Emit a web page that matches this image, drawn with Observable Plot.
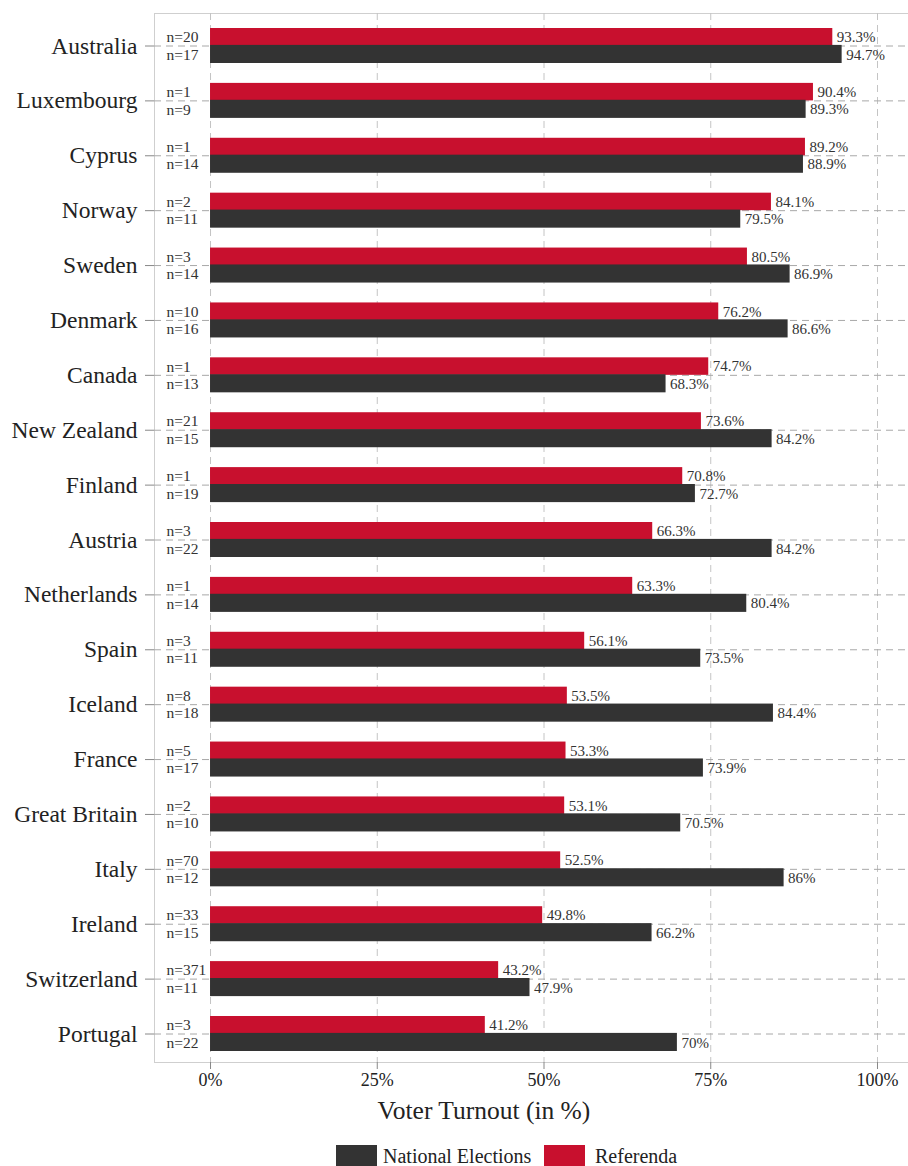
<!DOCTYPE html>
<html>
<head>
<meta charset="utf-8">
<script src="https://cdn.jsdelivr.net/npm/d3@7"></script>
<script src="https://cdn.jsdelivr.net/npm/@observablehq/plot@0.6"></script>
<style>
  html, body { margin: 0; padding: 0; background: #fff; }
  #wrap { position: relative; width: 908px; height: 1166px; overflow: hidden; font-family: "Liberation Serif", "DejaVu Serif", serif; }
  .sw { position: absolute; width: 41px; height: 22px; }
  .lt { position: absolute; font-size: 20px; color: #222; line-height: 20px; }
</style>
</head>
<body>
<div id="wrap"></div>
<script>
const countries = ["Australia","Luxembourg","Cyprus","Norway","Sweden","Denmark","Canada","New Zealand","Finland","Austria","Netherlands","Spain","Iceland","France","Great Britain","Italy","Ireland","Switzerland","Portugal"];
const referenda = [93.3,90.4,89.2,84.1,80.5,76.2,74.7,73.6,70.8,66.3,63.3,56.1,53.5,53.3,53.1,52.5,49.8,43.2,41.2];
const national = [94.7,89.3,88.9,79.5,86.9,86.6,68.3,84.2,72.7,84.2,80.4,73.5,84.4,73.9,70.5,86,66.2,47.9,70];
const nReferenda = [20,1,1,2,3,10,1,21,1,3,1,3,8,5,2,70,33,371,3];
const nNational = [17,9,14,11,14,16,13,15,19,22,14,11,18,17,10,12,15,11,22];
const xTicks = [0,25,50,75,100];
const seriesNames = ["National Elections","Referenda"];
const seriesColors = ["#333333","#c8102e"];
const xTitle = "Voter Turnout (in %)";

const rows = countries.map((c,i) => ({country:c, ref:referenda[i], nat:national[i], nRef:nReferenda[i], nNat:nNational[i]}));

const W = 908, H = 1140;
const mTop = 13, mBottom = H - 1062, mLeft = 154, mRight = -1;
const firstC = 45.5, lastC = 1033.5, bw = 35;
const step = (lastC - firstC) / (countries.length - 1);
const pad = 1 - bw / step;
const half = bw / 2;
const yRange = [firstC - half - pad * step, lastC + half + pad * step];

const chart = Plot.plot({
  width: W, height: H,
  marginTop: mTop, marginBottom: mBottom, marginLeft: mLeft, marginRight: mRight,
  style: {fontFamily: '"Liberation Serif", "DejaVu Serif", serif', color: "#222", background: "#fff"},
  x: {domain: [-8.4, 104.8]},
  y: {domain: countries, range: yRange, round: false, padding: pad, paddingInner: pad, paddingOuter: pad},
  marks: [
    Plot.frame({stroke: "#cfcfcf"}),
    Plot.ruleX(xTicks, {stroke: "#c4c4c4", strokeDasharray: "7,5"}),
    Plot.ruleY(countries, {y: d => d, stroke: "#a8a8a8", strokeDasharray: "7,5"}),
    Plot.barX(rows, {y: "country", x1: 0, x2: "ref", fill: seriesColors[1], insetBottom: half}),
    Plot.barX(rows, {y: "country", x1: 0, x2: "nat", fill: seriesColors[0], insetTop: half - 0.6}),
    Plot.text(rows, {y: "country", x: "ref", text: d => d.ref + "%", dx: 4, dy: -half/2, textAnchor: "start", fontSize: 15, fill: "#333"}),
    Plot.text(rows, {y: "country", x: "nat", text: d => d.nat + "%", dx: 4, dy: half/2, textAnchor: "start", fontSize: 15, fill: "#333"}),
    Plot.text(rows, {y: "country", x: -6.6, text: d => "n=" + d.nRef, dy: -half/2, textAnchor: "start", fontSize: 15.5, fill: "#333"}),
    Plot.text(rows, {y: "country", x: -6.6, text: d => "n=" + d.nNat, dy: half/2, textAnchor: "start", fontSize: 15.5, fill: "#333"}),
    Plot.axisY({label: null, tickSize: 9, tickPadding: 8, fontSize: 23.5, stroke: "#888", fill: "#222"}),
    Plot.axisX({ticks: xTicks, tickFormat: d => d + "%", label: null, tickSize: 7, tickPadding: 4, fontSize: 18, stroke: "#888", fill: "#222"}),
    Plot.text([xTitle], {x: 41, frameAnchor: "bottom", dy: 56, text: d => d, fontSize: 25.5, fill: "#222"})
  ]
});

const wrap = document.getElementById("wrap");
wrap.appendChild(chart);

const legendItems = [
  {name: seriesNames[0], color: seriesColors[0], sx: 336, tx: 383},
  {name: seriesNames[1], color: seriesColors[1], sx: 544, tx: 595}
];
for (const it of legendItems) {
  const s = document.createElement("div");
  s.className = "sw"; s.style.left = it.sx + "px"; s.style.top = "1145px"; s.style.background = it.color;
  wrap.appendChild(s);
  const t = document.createElement("div");
  t.className = "lt"; t.style.left = it.tx + "px"; t.style.top = "1146px"; t.textContent = it.name;
  wrap.appendChild(t);
}
</script>
</body>
</html>
